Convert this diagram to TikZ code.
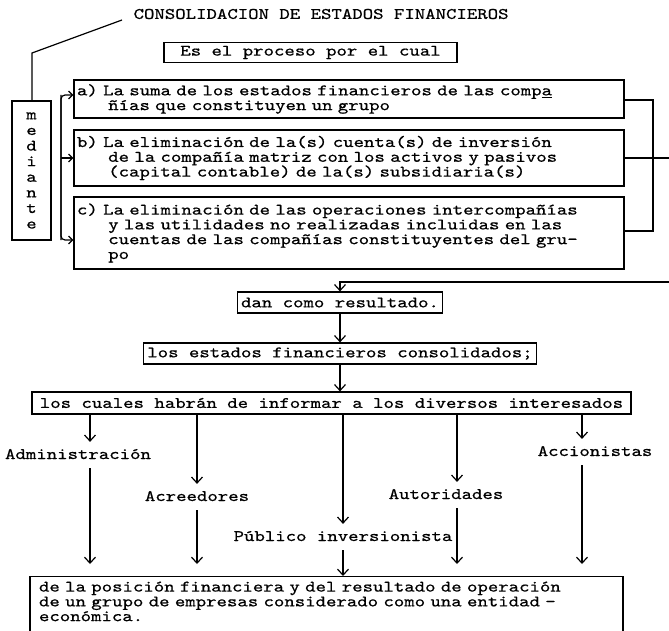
\documentclass[tikz,border=0pt]{standalone}
\usepackage{fontspec}
\newfontfamily\maquina[FakeStretch=1.24, FakeBold=0.7]{lmmono10-regular.otf}
\usetikzlibrary{arrows.meta}

\newcommand{\sangria}{\hphantom{a)x}}

\begin{document}
\begin{tikzpicture}[x=1pt, y=-1pt, line width=1.2pt,
    >={Straight Barb[length=6pt,width=11pt]},
    texto/.style={font={\maquina\fontsize{16}{14.8}\selectfont}},
    caja/.style={texto, draw, inner sep=3pt},
    etiq/.style={texto, text height=10pt, text depth=2pt, inner xsep=2pt, inner ysep=6.5pt},
    flechita/.style={-{Straight Barb[length=4pt,width=8pt]}}]

    \path[use as bounding box] (0,0) rectangle (669,631);
    \clip (0,0) rectangle (669,631);

    % encabezado
    \node[texto, anchor=west, inner sep=0pt] (tit) at (133,14) {CONSOLIDACION DE ESTADOS FINANCIEROS};
    \node[caja, minimum width=293, minimum height=19] (proc) at (310.5,52.5) {Es el proceso por el cual};
    \node[caja, minimum width=39, minimum height=139, align=center,
          font={\maquina\fontsize{16}{15.6}\selectfont}] (med) at (31.5,170.5) {m\\e\\d\\i\\a\\n\\t\\e};

    % los tres pasos
    \node[caja, text width=544, minimum height=38, align=left] (a) at (349,99)
        {a) La suma de los estados financieros de las comp\underline{a}\\\sangria ñías que constituyen un grupo};
    \node[caja, text width=544, minimum height=56, align=left] (b) at (349,158)
        {b) La eliminación de la(s) cuenta(s) de inversión\\\sangria de la compañía matriz con los activos y pasivos\\\sangria (capital contable) de la(s) subsidiaria(s)};
    \node[caja, text width=544, minimum height=72, align=left] (c) at (349,233)
        {c) La eliminación de las operaciones intercompañías\\\sangria y las utilidades no realizadas incluidas en las\\\sangria cuentas de las compañías constituyentes del gru-\\\sangria po};

    \node[caja, minimum width=205, minimum height=21] (res) at (340,302.5) {dan como resultado.};
    \node[caja, minimum width=393, minimum height=21] (cons) at (340,353.5) {los estados financieros consolidados;};
    \node[caja, minimum width=599, minimum height=22] (cual) at (331.5,403) {los cuales habrán de informar a los diversos interesados};

    % interesados
    \node[etiq] (adm) at (78,455) {Administración};
    \node[etiq] (acr) at (197,497) {Acreedores};
    \node[etiq] (pub) at (343,537) {Público inversionista};
    \node[etiq] (aut) at (446,495) {Autoridades};
    \node[etiq] (acc) at (595,452) {Accionistas};

    \node[caja, anchor=north, text width=575, inner xsep=9pt, inner ysep=5pt, align=left] (fin) at (326.5,576)
        {de la posición financiera y del resultado de operación\\de un grupo de empresas considerado como una entidad -\\económica.\rule[-10pt]{0pt}{10pt}};

    \coordinate (lt) at (122,20);
    \coordinate (lq) at (32,53);
    \coordinate (ia) at (61,95);
    \coordinate (ic) at (61,240);
    \coordinate (da) at (653,100);
    \coordinate (dc) at (653,231);
    \coordinate (db) at (669,158);
    \coordinate (dr) at (669,282);
    \coordinate (xadm) at (90,0);
    \coordinate (xacr) at (197,0);
    \coordinate (xpub) at (343,0);
    \coordinate (xaut) at (457,0);
    \coordinate (xacc) at (582,0);

    \draw (lt) -- (lq) -- (lq |- med.north);
    \draw[flechita, rounded corners=4pt] (ic) -- (ia) -- (a.west |- ia);
    \draw[flechita, rounded corners=4pt] (ia) -- (ic) -- (c.west |- ic);
    \draw[flechita] (ia |- b.west) to (b.west);
    \draw (a.east |- da) -- (da) -- (dc) -- (c.east |- dc);
    \draw (b.east) to (db);
    \draw[->] (dr) -- (dr -| res.north) -- (res.north);
    \draw[->] (res) to (cons);
    \draw[->] (cons.south) to (cual.north -| cons.south);

    \draw[->] (cual.south -| xadm) to (adm.north -| xadm);
    \draw[->] (cual.south -| xacr) to (acr.north -| xacr);
    \draw[->] (cual.south -| xpub) to (pub.north -| xpub);
    \draw[->] (cual.south -| xaut) to (aut.north -| xaut);
    \draw[->] (cual.south -| xacc) to (acc.north -| xacc);
    \draw[->, shorten >=12pt] (adm.south -| xadm) to (fin.north -| xadm);
    \draw[->, shorten >=12pt] (acr.south -| xacr) to (fin.north -| xacr);
    \draw[->] (pub.south -| xpub) to (fin.north -| xpub);
    \draw[->, shorten >=12pt] (aut.south -| xaut) to (fin.north -| xaut);
    \draw[->, shorten >=12pt] (acc.south -| xacc) to (fin.north -| xacc);
\end{tikzpicture}
\end{document}
